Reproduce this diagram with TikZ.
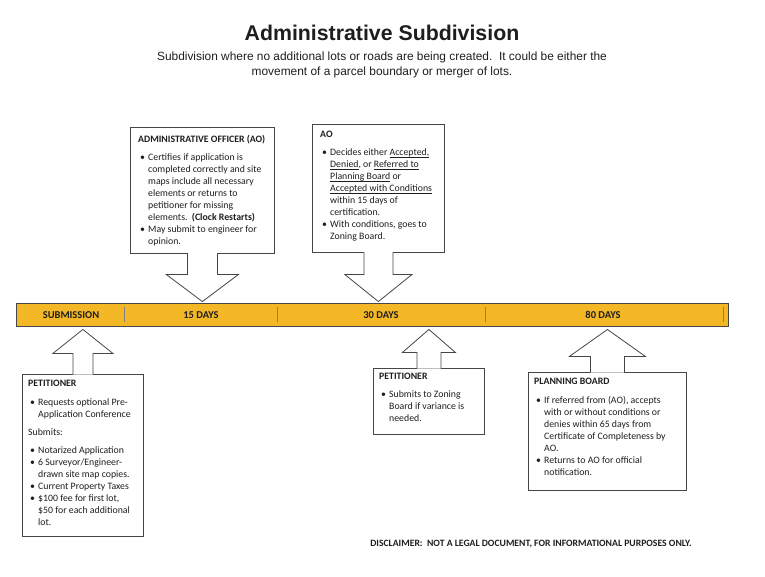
\documentclass[tikz,border=0pt]{standalone}
\usepackage{fontspec}
\setmainfont{Carlito}
\newfontfamily\arialfont{Liberation Sans}
\usetikzlibrary{calc}

\definecolor{bargold}{RGB}{244,184,38}
\definecolor{linegray}{RGB}{70,70,70}
\definecolor{inkblack}{RGB}{30,30,30}

% bullet lines inside the boxes
\newcommand{\bul}{\hspace*{2pt}\makebox[8pt][l]{\textbullet}}
\newcommand{\ind}{\hspace*{10pt}}
% underline close to the base line
\newlength{\ulwd}
\newcommand{\uln}[1]{\settowidth{\ulwd}{#1}\makebox[0pt][l]{\rule[-1.5pt]{\ulwd}{0.5pt}}#1}

% block arrow from a box down onto the bar
\newcommand{\arrdown}[4]{%
	\coordinate (#1tip) at ([yshift=1pt]#1.south |- bar.north);
	\draw[blockarrow] ([xshift=-#2pt,yshift=0.6pt]#1.south) -- ([xshift=-#2pt,yshift=#4pt]#1tip) -- ([xshift=-#3pt,yshift=#4pt]#1tip) -- (#1tip) -- ([xshift=#3pt,yshift=#4pt]#1tip) -- ([xshift=#2pt,yshift=#4pt]#1tip) -- ([xshift=#2pt,yshift=0.6pt]#1.south);
}
% block arrow from a box up to the bar
\newcommand{\arrup}[4]{%
	\coordinate (#1tip) at ([yshift=-3pt]#1.north |- bar.south);
	\draw[blockarrow] ([xshift=-#2pt,yshift=-0.6pt]#1.north) -- ([xshift=-#2pt,yshift=-#4pt]#1tip) -- ([xshift=-#3pt,yshift=-#4pt]#1tip) -- (#1tip) -- ([xshift=#3pt,yshift=-#4pt]#1tip) -- ([xshift=#2pt,yshift=-#4pt]#1tip) -- ([xshift=#2pt,yshift=-0.6pt]#1.north);
}

\begin{document}
\begin{tikzpicture}[x=1pt, y=-1pt,
		boxframe/.style={draw=linegray, line width=0.8pt, fill=white, anchor=north west, inner sep=0pt},
		boxtext/.style={anchor=north west, align=left, inner sep=0pt, text=inkblack, font=\fontsize{9.8}{12}\selectfont},
		blockarrow/.style={draw=linegray, line width=0.8pt, fill=white, line join=miter},
		timebar/.style={draw=linegray, line width=0.9pt, fill=bargold, inner sep=0pt},
		barlabel/.style={text=inkblack, font=\bfseries\fontsize{10.5}{12}\selectfont},
		divider/.style={draw=gray, line width=0.5pt}]
	\useasboundingbox (0,0) rectangle (765,576);

	% heading
	\node[text=inkblack, font=\arialfont\bfseries\fontsize{21.3}{24}\selectfont] (title) at (382,33) {Administrative Subdivision};
	\node[text=inkblack, align=center, font=\arialfont\fontsize{11.9}{15}\selectfont] (subtitle) at (382,65) {Subdivision where no additional lots or roads are being created.\ \ It could be either the\\movement of a parcel boundary or merger of lots.};

	% time line
	\node[timebar, minimum width=712pt, minimum height=23pt] (bar) at (372,314.5) {};
	\foreach \x in {124,277,485,723}
		\draw[divider] (\x,307) -- (\x,322);
	\node[barlabel] (sub) at (71,315) {SUBMISSION};
	\node[barlabel] (d15) at (201,315) {15 DAYS};
	\node[barlabel] (d30) at (381,315) {30 DAYS};
	\node[barlabel] (d80) at (603,315) {80 DAYS};

	% boxes
	\node[boxframe, minimum width=144pt, minimum height=126pt] (ao1) at (130,127) {};
	\node[boxframe, minimum width=132pt, minimum height=128pt] (ao2) at (312,124) {};
	\node[boxframe, minimum width=121pt, minimum height=162pt] (pet1) at (22,374) {};
	\node[boxframe, minimum width=111pt, minimum height=66pt] (pet2) at (373,368) {};
	\node[boxframe, minimum width=158pt, minimum height=118pt] (plan) at (528,372) {};

	\arrdown{ao1}{15}{36}{27}
	\arrdown{ao2}{14.5}{33.5}{27}
	\arrup{pet1}{10}{30}{24}
	\arrup{pet2}{12}{26.5}{23}
	\arrup{plan}{17}{38}{27}

	% texts
	\node[boxtext] (ao1txt) at ([shift={(8pt,-8pt)}]ao1.north west) {\textbf{ADMINISTRATIVE OFFICER (AO)}\\[6pt]
		\bul Certifies if application is\\ \ind completed correctly and site\\ \ind maps include all necessary\\ \ind elements or returns to\\ \ind petitioner for missing\\ \ind elements.\ \ \textbf{(Clock Restarts)}\\
		\bul May submit to engineer for\\ \ind opinion.};
	\node[boxtext] (ao2txt) at ([shift={(8pt,-7pt)}]ao2.north west) {\textbf{AO}\\[6pt]
		\bul Decides either \uln{Accepted,}\\ \ind \uln{Denied}, or \uln{Referred to}\\ \ind \uln{Planning Board} or\\ \ind \uln{Accepted with Conditions}\\ \ind within 15 days of\\ \ind certification.\\
		\bul With conditions, goes to\\ \ind Zoning Board.};
	\node[boxtext] (pet1txt) at ([shift={(6pt,-6pt)}]pet1.north west) {\textbf{PETITIONER}\\[7pt]
		\bul Requests optional Pre-\\ \ind Application Conference\\[6pt]
		Submits:\\[6pt]
		\bul Notarized Application\\
		\bul 6 Surveyor/Engineer-\\ \ind drawn site map copies.\\
		\bul Current Property Taxes\\
		\bul \$100 fee for first lot,\\ \ind \$50 for each additional\\ \ind lot.};
	\node[boxtext] (pet2txt) at ([shift={(6pt,-5pt)}]pet2.north west) {\textbf{PETITIONER}\\[6pt]
		\bul Submits to Zoning\\ \ind Board if variance is\\ \ind needed.};
	\node[boxtext] (plantxt) at ([shift={(6pt,-6pt)}]plan.north west) {\textbf{PLANNING BOARD}\\[7pt]
		\bul If referred from (AO), accepts\\ \ind with or without conditions or\\ \ind denies within 65 days from\\ \ind Certificate of Completeness by\\ \ind AO.\\
		\bul Returns to AO for official\\ \ind notification.};

	\node[text=inkblack, font=\bfseries\fontsize{9.7}{11}\selectfont] (disclaimer) at (531,544) {DISCLAIMER:\ \ NOT A LEGAL DOCUMENT, FOR INFORMATIONAL PURPOSES ONLY.};
\end{tikzpicture}
\end{document}
